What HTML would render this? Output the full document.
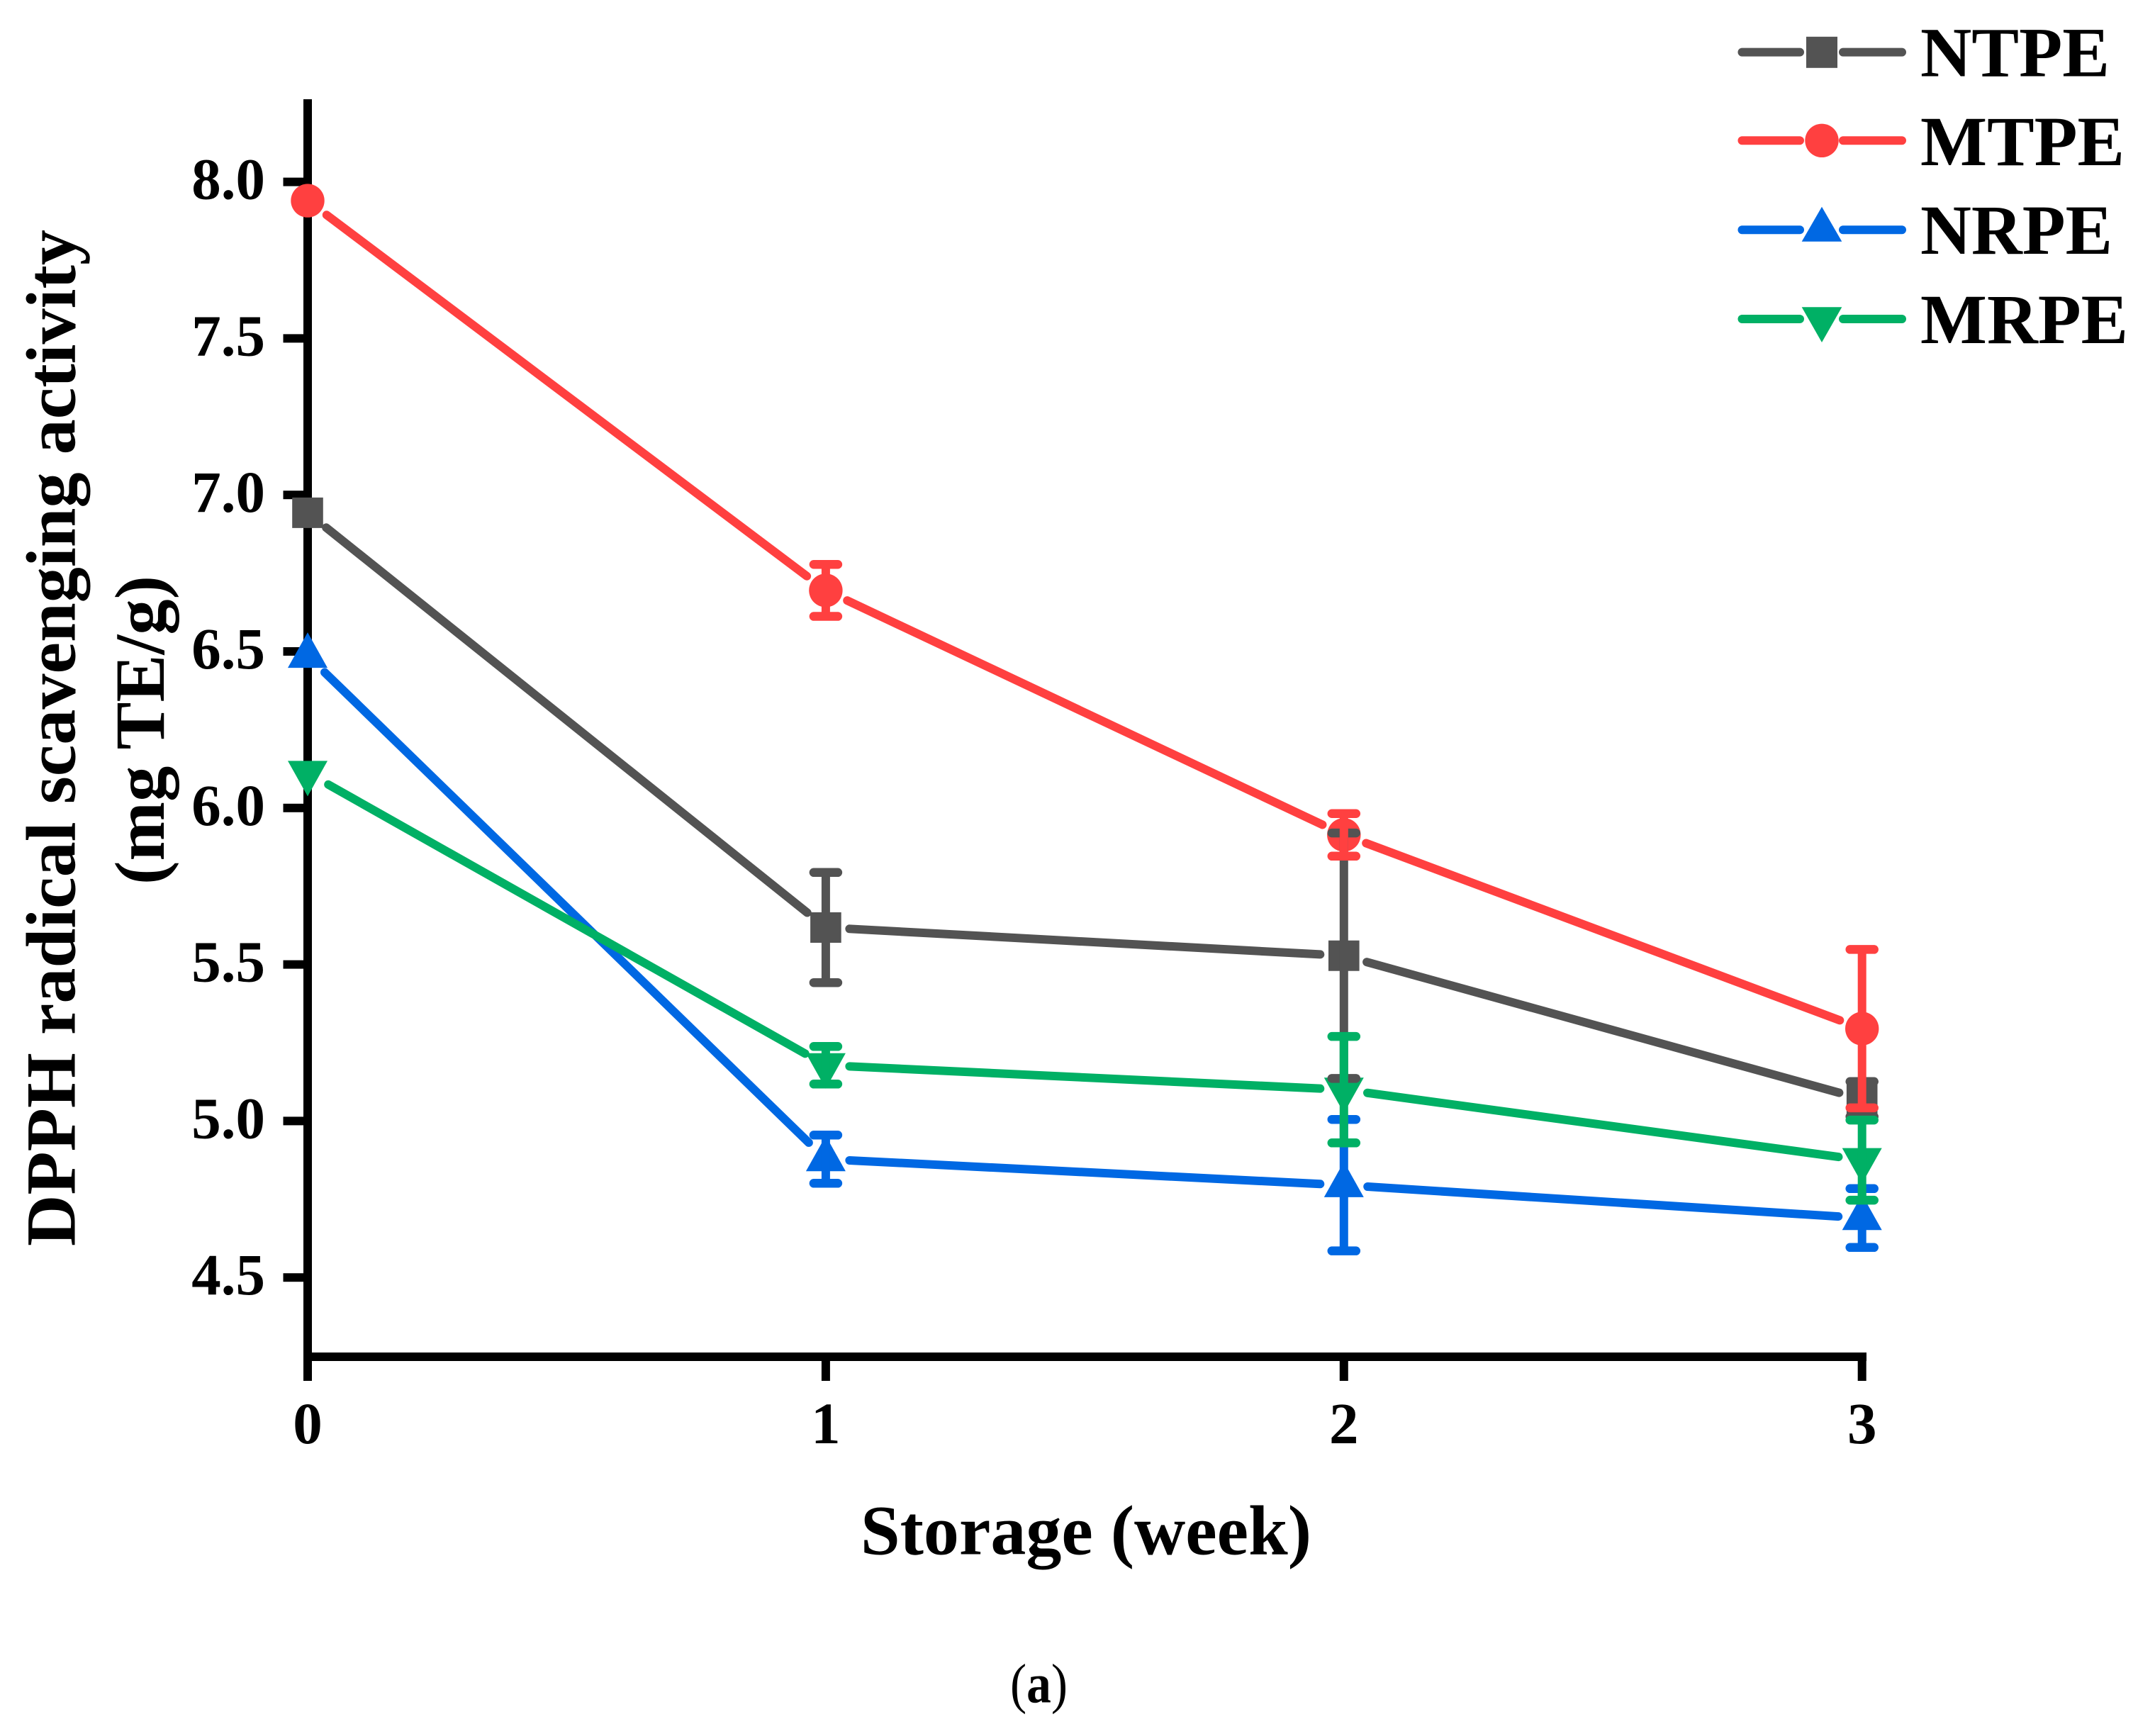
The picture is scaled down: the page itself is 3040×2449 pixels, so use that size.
<!DOCTYPE html>
<html lang="en">
<head>
<meta charset="utf-8">
<title>DPPH radical scavenging activity</title>
<style>
html,body{margin:0;padding:0;background:#fff;}
svg{display:block;}
text{font-family:"Liberation Serif",serif;font-weight:700;fill:#000;}
</style>
</head>
<body>
<svg id="chart" xmlns="http://www.w3.org/2000/svg" width="3040" height="2449" viewBox="0 0 3040 2449">
  <rect x="0" y="0" width="3040" height="2449" fill="#fff"/>
  <g id="axes"></g>
  <g id="series-lines"></g>
  <g id="markers"></g>
  <g id="errors"></g>

  <text transform="translate(105.6 1758) rotate(-90)" font-size="100" textLength="1434" lengthAdjust="spacingAndGlyphs">DPPH radical scavenging activity</text>
  <text transform="translate(231 1248) rotate(-90)" font-size="100" textLength="436" lengthAdjust="spacingAndGlyphs">(mg TE/g)</text>
  <text x="1214" y="2192.7" font-size="100" textLength="636" lengthAdjust="spacingAndGlyphs">Storage (week)</text>
  <text x="1425" y="2401.7" font-size="78" textLength="81" lengthAdjust="spacingAndGlyphs"><tspan font-weight="400">(</tspan>a<tspan font-weight="400">)</tspan></text>

  <g>
    <g>
      <line x1="2457.5" y1="73.6" x2="2539" y2="73.6" stroke="#535353" stroke-width="12" stroke-linecap="round"/>
      <line x1="2600" y1="73.6" x2="2683" y2="73.6" stroke="#535353" stroke-width="12" stroke-linecap="round"/>
      <rect x="2548" y="51.8" width="44" height="44" fill="#535353"/>
      <text x="2709" y="107.6" font-size="100" textLength="267" lengthAdjust="spacingAndGlyphs">NTPE</text>
    </g>
    <g>
      <line x1="2457.5" y1="198.3" x2="2539" y2="198.3" stroke="#FF4040" stroke-width="12" stroke-linecap="round"/>
      <line x1="2600" y1="198.3" x2="2683" y2="198.3" stroke="#FF4040" stroke-width="12" stroke-linecap="round"/>
      <circle cx="2570" cy="198.3" r="23.7" fill="#FF4040"/>
      <text x="2709" y="232.8" font-size="100" textLength="288" lengthAdjust="spacingAndGlyphs">MTPE</text>
    </g>
    <g>
      <line x1="2457.5" y1="324.2" x2="2539" y2="324.2" stroke="#0068E3" stroke-width="12" stroke-linecap="round"/>
      <line x1="2600" y1="324.2" x2="2683" y2="324.2" stroke="#0068E3" stroke-width="12" stroke-linecap="round"/>
      <polygon points="2570,291.7 2598.3,340.7 2541.7,340.7" fill="#0068E3"/>
      <text x="2709" y="358" font-size="100" textLength="271" lengthAdjust="spacingAndGlyphs">NRPE</text>
    </g>
    <g>
      <line x1="2457.5" y1="450" x2="2539" y2="450" stroke="#00B065" stroke-width="12" stroke-linecap="round"/>
      <line x1="2600" y1="450" x2="2683" y2="450" stroke="#00B065" stroke-width="12" stroke-linecap="round"/>
      <polygon points="2541.7,433.3 2598.3,433.3 2570,483" fill="#00B065"/>
      <text x="2709" y="483.8" font-size="100" textLength="293" lengthAdjust="spacingAndGlyphs">MRPE</text>
    </g>
  </g>
</svg>
<script>
const weeks = [0, 1, 2, 3];
const yTickValues = [8.0, 7.5, 7.0, 6.5, 6.0, 5.5, 5.0, 4.5];
const yTickLabels = ["8.0", "7.5", "7.0", "6.5", "6.0", "5.5", "5.0", "4.5"];
const xTickLabels = ["0", "1", "2", "3"];

const ntpeMeans = [6.943, 5.618, 5.528, 5.07];
const ntpeErrors = [0, 0.176, 0.392, 0.056];
const mtpeMeans = [7.94, 6.695, 5.914, 5.295];
const mtpeErrors = [0, 0.083, 0.068, 0.253];
const nrpeMeans = [6.486, 4.878, 4.795, 4.69];
const nrpeErrors = [0, 0.077, 0.21, 0.094];
const mrpeMeans = [6.112, 5.178, 5.10, 4.875];
const mrpeErrors = [0, 0.06, 0.17, 0.128];

const NS = "http://www.w3.org/2000/svg";
function xScale(w) { return 434 + w * 730.9; }
function yScale(v) { return 256.6 + (8 - v) * 441.6; }
function make(tag, attrs, parent) {
  const el = document.createElementNS(NS, tag);
  for (const k in attrs) el.setAttribute(k, attrs[k]);
  parent.appendChild(el);
  return el;
}

const axes = document.getElementById("axes");
const linesG = document.getElementById("series-lines");
const markersG = document.getElementById("markers");
const errorsG = document.getElementById("errors");

/* axes */
const yAxisLine = make("rect", {x: 428, y: 140, width: 12, height: 1780, fill: "#000"}, axes);


const xAxisLine = make("rect", {x: 428, y: 1908, width: 2205, height: 12, fill: "#000"}, axes);



yTickValues.forEach(function (v, i) {
  const tick = make("rect", {x: 399.5, y: yScale(v) - 6, width: 30, height: 12, fill: "#000"}, axes);
  
  
  const label = make("text", {x: 374, y: yScale(v) + 24, "font-size": 83, "text-anchor": "end"}, axes);
  
  
  label.textContent = yTickLabels[i];
});

weeks.forEach(function (w, i) {
  const tick = make("rect", {x: xScale(w) - 6, y: 1914, width: 12, height: 34, fill: "#000"}, axes);
  
  
  const label = make("text", {x: xScale(w), y: 2036, "font-size": 83, "text-anchor": "middle"}, axes);
  
  
  label.textContent = xTickLabels[i];
});

/* series */
const GAP = 33.5;
function drawLine(means, color) {
  for (let i = 0; i < weeks.length - 1; i++) {
    const x1 = xScale(weeks[i]), y1 = yScale(means[i]);
    const x2 = xScale(weeks[i + 1]), y2 = yScale(means[i + 1]);
    const d = Math.hypot(x2 - x1, y2 - y1);
    const ux = (x2 - x1) / d, uy = (y2 - y1) / d;
    const seg = make("line", {
      x1: x1 + ux * GAP, y1: y1 + uy * GAP,
      x2: x2 - ux * GAP, y2: y2 - uy * GAP,
      stroke: color, "stroke-width": 12, "stroke-linecap": "round"
    }, linesG);
    
    
  }
}
function drawMarker(shape, x, y, color) {
  let m;
  if (shape === "square") {
    m = make("rect", {x: x - 21.8, y: y - 21.5, width: 43.6, height: 43, fill: color}, markersG);
  } else if (shape === "circle") {
    m = make("circle", {cx: x, cy: y, r: 23.7, fill: color}, markersG);
  } else if (shape === "up") {
    m = make("polygon", {points: (x) + "," + (y - 33) + " " + (x + 28) + "," + (y + 17) + " " + (x - 28) + "," + (y + 17), fill: color}, markersG);
  } else {
    m = make("polygon", {points: (x - 28) + "," + (y - 17) + " " + (x + 28) + "," + (y - 17) + " " + (x) + "," + (y + 33), fill: color}, markersG);
  }
  
  
}
function drawError(x, mean, err, color) {
  if (!err) return;
  const top = yScale(mean + err), bottom = yScale(mean - err);
  const stem = make("line", {x1: x, y1: top, x2: x, y2: bottom, stroke: color, "stroke-width": 12}, errorsG);
  
  
  [top, bottom].forEach(function (y) {
    const cap = make("line", {x1: x - 17, y1: y, x2: x + 17, y2: y, stroke: color, "stroke-width": 12.5, "stroke-linecap": "round"}, errorsG);
    
    
  });
}

const ntpeSeries = {means: ntpeMeans, errors: ntpeErrors, color: "#535353", shape: "square"};
const mtpeSeries = {means: mtpeMeans, errors: mtpeErrors, color: "#FF4040", shape: "circle"};
const nrpeSeries = {means: nrpeMeans, errors: nrpeErrors, color: "#0068E3", shape: "up"};
const mrpeSeries = {means: mrpeMeans, errors: mrpeErrors, color: "#00B065", shape: "down"};
const allSeries = [ntpeSeries, mtpeSeries, nrpeSeries, mrpeSeries];

allSeries.forEach(function (s) {
  drawLine(s.means, s.color);
  weeks.forEach(function (w, i) {
    drawMarker(s.shape, xScale(w), yScale(s.means[i]), s.color);
    drawError(xScale(w), s.means[i], s.errors[i], s.color);
  });
});
</script>
</body>
</html>
